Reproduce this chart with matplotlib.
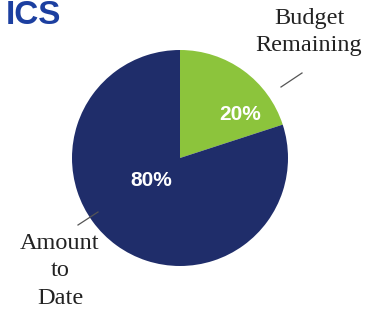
import matplotlib
matplotlib.use("Agg")
import matplotlib.pyplot as plt

categories = ["Budget Remaining", "Amount to Date"]
values = [20, 80]
pct_labels = ["20%", "80%"]
colors = ["#8cc43c", "#1f2d6a"]

W, H = 380, 315
fig = plt.figure(figsize=(W / 100, H / 100), dpi=100)
fig.patch.set_facecolor("white")

def fx(x):
    return x / W

def fy(y):
    return 1 - y / H

cx, cy, r = 180, 158, 108
ax = fig.add_axes([fx(cx - r), fy(cy + r), 2 * r / W, 2 * r / H])
wedges, _ = ax.pie(values, colors=colors, startangle=90, counterclock=False,
                   radius=1.0, wedgeprops=dict(linewidth=0))
ax.set_xlim(-1, 1)
ax.set_ylim(-1, 1)
ax.set_aspect("auto")
ax.axis("off")

# percentage labels
fig.text(fx(240), fy(115), pct_labels[0], color="white", fontsize=15,
         fontweight="bold", family="Liberation Sans", ha="center", va="center")
fig.text(fx(151), fy(181), pct_labels[1], color="white", fontsize=15,
         fontweight="bold", family="Liberation Sans", ha="center", va="center")

# category labels
fig.text(fx(309), fy(32), categories[0].replace(" ", "\n"), fontsize=17.5,
         family="Liberation Serif", color="#222222", ha="center", va="center",
         linespacing=1.4)
fig.text(fx(60), fy(271), categories[1].replace(" ", "\n"), fontsize=17.5,
         family="Liberation Serif", color="#222222", ha="center", va="center",
         linespacing=1.4)

# leader lines
fig.add_artist(plt.Line2D([fx(281), fx(302)], [fy(87), fy(73)], color="#555555", lw=0.9))
fig.add_artist(plt.Line2D([fx(78), fx(98)], [fy(225), fy(212)], color="#555555", lw=0.9))

# title fragment
fig.text(fx(6), fy(16), "ICS", fontsize=24, fontweight="bold", family="Liberation Sans",
         color="#1c3fa0", ha="left", va="center")

fig.savefig("out.png", dpi=100, facecolor="white")
